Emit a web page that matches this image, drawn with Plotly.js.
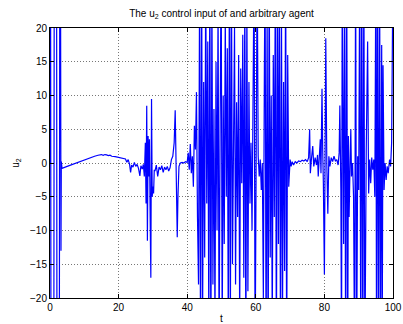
<!DOCTYPE html>
<html>
<head>
<meta charset="utf-8">
<script src="https://cdn.plot.ly/plotly-3.0.1.min.js"></script>
<style>html,body{margin:0;padding:0;background:#fff;}#chart{width:403px;height:324px;}</style>
</head>
<body>
<div id="chart"></div>
<script>
// Time samples (t) and control input values (u2)
const tA = [0, 0.15, 0.3, 1.1, 1.25, 1.9, 2.05, 2.7, 2.85, 3.1, 3.2, 3.3];
const uA = [0, 40, -40, -40, 40, 40, -40, -40, 30, 20, -13, 0.2];

const tB = [3.5, 5, 7, 9, 11, 13, 14, 14.5, 15, 15.5, 16, 16.5, 17, 17.5, 18, 19, 20, 21, 21.5];
const uB = [-0.8, -0.5, -0.1, 0.3, 0.7, 1.0, 1.15, 1.2, 1.25, 1.15, 1.25, 1.2, 1.1, 1.15, 1.0, 0.95, 0.85, 0.8, 0.75];

const tC = [22, 22.4, 22.8, 23.2, 23.5, 23.8, 24.2, 24.6, 25, 25.4, 25.8, 26.2, 26.5, 26.9, 27.2];
const uC = [0.6, 0.1, 0.5, -0.2, -1.4, -0.3, -0.6, 0.1, -0.5, -0.2, -0.8, -1.9, -0.4, -0.9, -0.2];

const tD = [27.5, 27.8, 28.0, 28.2, 28.4, 28.6, 28.8, 29.0, 29.2, 29.4, 29.6, 29.8, 30.0, 30.2, 30.4];
const uD = [-2, 3, -6, 8.5, -11.5, 4, -2, 3.5, -8, -17, 9.5, -5, -3.5, -4.5, -1];

const tE = [30.6, 31, 31.4, 31.8, 32.2, 32.6, 33, 33.4, 33.8, 34.2, 34.6, 35, 35.4];
const uE = [-1.2, -0.3, -2.0, -0.6, -1.0, -0.4, -1.4, -0.6, -1.0, -0.5, -1.2, -0.7, 0.5];

const tF = [35.8, 36.2, 36.5, 36.7, 36.9, 37.1, 37.3, 37.6, 38];
const uF = [1, 3, 7.8, 2, -8, -11, -5, -0.5, 0];

const tG = [38.5, 39, 39.5, 40, 40.3, 40.6, 40.9, 41.2, 41.5, 41.8, 42.1, 42.4, 42.7, 43.0, 43.3];
const uG = [0.1, 0, 0.2, 0.1, 1.5, -1, 2.8, -1.5, 1.0, -3.5, 5.5, 2, 10.5, -8, -18];

const tH = [43.6, 43.9, 44.2, 44.5, 44.8, 45.1, 45.4, 45.7, 46.0, 46.3, 46.6, 46.9, 47.2, 47.5, 47.8,
  48.1, 48.4, 48.7, 49.0, 49.3, 49.6, 49.9, 50.2, 50.5, 50.8, 51.1, 51.4, 51.7, 52.0, 52.3,
  52.6, 52.9, 53.2, 53.5, 53.8, 54.1, 54.4, 54.7, 55.0, 55.3, 55.6, 55.9, 56.2, 56.5, 56.8,
  57.1, 57.4, 57.7, 58.0, 58.3, 58.6, 58.9, 59.2, 59.5, 59.8, 60.1, 60.4, 60.7, 61.0, 61.3,
  61.6, 61.9, 62.2, 62.5, 62.7, 63.0, 63.3, 63.6, 63.9, 64.2, 64.5, 64.8, 65.1, 65.4, 65.7, 66.0,
  66.3, 66.6, 66.9, 67.2, 67.5, 67.8, 68.1, 68.4, 68.7, 69.0, 69.3, 69.6];
const uH = [25, -30, 30, -22, 12, -14, 28, -6, 18, -25, 30, -30, 26, -18, 8,
  -24, 15, -10, 24, -28, 6, 30, -26, 10, -12, 22, -5, 17, -30, 30,
  -22, 28, -15, 4, 20, -18, 9, -8, 16, -24, 14, -3, 19, -17, 26,
  -30, 24, -19, 12, -6, 3, -10, 5, 30, -30, 2, 30, 1, -2, 0.5,
  -4, 0, -20, 14, 30, -30, 22, -30, 30, -14, 10, -25, 16, -8, 30, -30,
  25, -12, 30, -30, 20, -22, 12, -16, 30, -30, 16, -3.5];

const tI = [70.0, 70.3, 70.6, 71, 71.5, 72, 72.5, 73, 73.5, 74, 74.5, 75, 75.4, 75.7, 75.9,
  76.2, 76.6, 76.9, 77.3, 77.7, 78.0, 78.2, 78.5, 78.8, 79.0, 79.3, 79.5, 79.7, 80.0, 80.2,
  80.4, 80.7, 81.0, 81.3, 81.6, 82, 82.4, 82.8, 83.2, 83.6, 84, 84.3];
const uI = [0.5, -0.5, 0.2, -0.3, 0.2, 0, 0.3, 0.2, 0.4, 0.3, 0.5, 0.2, 0.8, 5, -1.5,
  0.5, 2.5, -0.5, 0.8, -0.3, 1.2, -2, 0.5, 3.5, -1.5, 11, 2, -3, -16.5, 3,
  18.5, 0, -7.5, 1, -0.5, 0.8, 0.2, 1, 0.3, 0.5, -0.3, 1.5];

const tJ = [84.5, 84.8, 85.0, 85.2, 85.6, 85.9, 86.2, 86.5, 86.8, 87.0, 87.2, 87.5, 87.7, 87.9, 88.2,
  88.5, 88.8, 89.1, 89.4, 89.7, 90.0, 90.3, 90.6, 90.9, 91.2, 91.5, 91.8, 92.2, 92.6, 92.9,
  93.2, 93.5, 93.8, 94.1, 94.4, 94.7, 95.0, 95.2, 95.5, 95.8, 96.1, 96.4, 96.7, 96.9, 97.1,
  97.4, 97.7, 98.0, 98.3, 98.6, 99.0, 99.3, 99.6, 100];
const uJ = [8.5, -4, -30, 30, -12, 25, -30, 30, -30, 4, -8, 0.5, 5, -2, 0,
  -5, -30, 30, -30, 1, -4, 30, -30, 30, -30, 30, -30, 2, 18, -4.5,
  0.5, -3, 0.8, -1, 0.5, -5, 30, -30, 30, -30, 28, -30, 17.5, -20, 14.5,
  -4, 0, -2.5, -0.5, -1.5, 0.5, -0.5, 3, 30];

const xTicks = [0, 20, 40, 60, 80, 100];
const yTicks = [-20, -15, -10, -5, 0, 5, 10, 15, 20];

const t = [].concat(tA, tB, tC, tD, tE, tF, tG, tH, tI, tJ);
const u = [].concat(uA, uB, uC, uD, uE, uF, uG, uH, uI, uJ);

const font = {family: 'Liberation Sans, Arial, Helvetica, sans-serif', size: 10, color: '#000'};

const axisCommon = {
  showline: true, linecolor: '#000', linewidth: 1, mirror: 'ticks',
  ticks: 'inside', ticklen: 4, tickcolor: '#000', tickwidth: 1,
  showgrid: true, gridcolor: '#777', griddash: '1px,2px', gridwidth: 1,
  zeroline: false, tickfont: font, fixedrange: true
};

const data = [{
  x: t, y: u, type: 'scatter', mode: 'lines',
  line: {color: '#0000ff', width: 1.2},
  hoverinfo: 'skip'
}];

const layout = {
  width: 403, height: 324,
  margin: {l: 50, r: 10, t: 28, b: 26},
  paper_bgcolor: '#fff', plot_bgcolor: '#fff',
  font: font,
  showlegend: false,
  title: {
    text: 'The u<sub>2</sub> control input of and arbitrary agent',
    font: {family: font.family, size: 10, color: '#000'},
    x: 0.5, xanchor: 'center', xref: 'paper',
    y: 0.958, yanchor: 'middle', yref: 'container'
  },
  xaxis: Object.assign({}, axisCommon, {
    range: [0, 100], tickvals: xTicks, ticktext: xTicks.map(String),
    title: {text: 't', font: font, standoff: 2}
  }),
  yaxis: Object.assign({}, axisCommon, {
    range: [-20, 20], tickvals: yTicks,
    ticktext: yTicks.map(v => v < 0 ? '\u2212' + Math.abs(v) : String(v)),
    title: {text: 'u<sub>2</sub>', font: font, standoff: 8}
  })
};

Plotly.newPlot('chart', data, layout, {displayModeBar: false, staticPlot: true});
</script>
</body>
</html>
